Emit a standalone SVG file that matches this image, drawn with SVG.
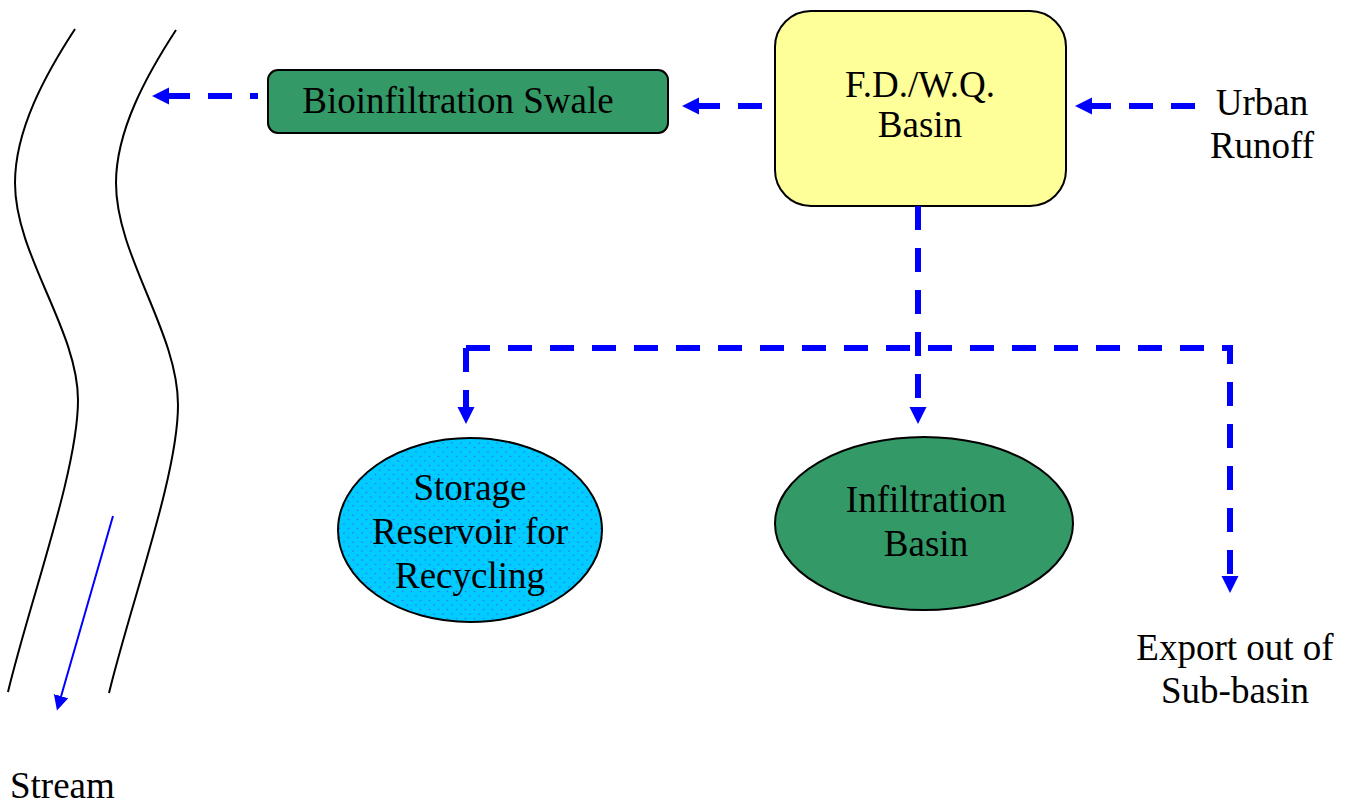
<svg xmlns="http://www.w3.org/2000/svg" width="1356" height="806" viewBox="0 0 1356 806">
<style>
.t{font-family:"Liberation Serif","Times New Roman",serif;font-size:37px;fill:#000;text-anchor:middle}
.flow{fill:none;stroke:#0000FF;stroke-width:6;stroke-dasharray:24 18;marker-end:url(#ah)}
.bank{fill:none;stroke:#000;stroke-width:2}
.node{stroke:#000;stroke-width:2}
</style>
<defs>
<marker id="ah" markerUnits="userSpaceOnUse" markerWidth="18" markerHeight="18" refX="6" refY="9" orient="auto">
<path d="M0,0.5 L17,9 L0,17.5 z" fill="#0000FF"/>
</marker>
<marker id="ah2" markerUnits="userSpaceOnUse" markerWidth="16" markerHeight="16" refX="4" refY="7.5" orient="auto">
<path d="M0,0 L15,7.5 L0,15 z" fill="#0000FF"/>
</marker>
<pattern id="dots" width="9" height="9" patternUnits="userSpaceOnUse">
<rect width="9" height="9" fill="#00CCFF"/>
<circle cx="2" cy="2" r="0.8" fill="#3A6CFF"/>
<circle cx="6.5" cy="6.5" r="0.8" fill="#3A6CFF"/>
</pattern>
</defs>

<g id="stream">
<path class="bank" d="M75,29 C45,75 15,130 15,183 C15,255 78,330 78,400 C78,470 30,600 8,692"/>
<path class="bank" d="M176,30 C146,76 116,131 116,183 C116,256 178,332 178,405 C178,475 131,602 109,693"/>
<line x1="113" y1="516" x2="60" y2="700" stroke="#0000FF" stroke-width="2" marker-end="url(#ah2)"/>
<text class="t" x="10" y="798" style="text-anchor:start">Stream</text>
</g>

<g id="swale">
<rect class="node" x="268" y="70" width="400" height="63" rx="10" fill="#339966"/>
<text class="t" x="458" y="113">Bioinfiltration Swale</text>
</g>

<g id="fdwq">
<rect class="node" x="775" y="11" width="291" height="195" rx="36" fill="#FFFF99"/>
<text class="t" x="920" y="97">F.D./W.Q.</text>
<text class="t" x="920" y="137">Basin</text>
</g>

<g id="urban">
<text class="t" x="1262" y="115">Urban</text>
<text class="t" x="1262" y="158">Runoff</text>
</g>

<g id="storage">
<ellipse class="node" cx="470" cy="530" rx="132" ry="92" fill="url(#dots)"/>
<text class="t" x="470" y="500">Storage</text>
<text class="t" x="470" y="544">Reservoir for</text>
<text class="t" x="470" y="588">Recycling</text>
</g>

<g id="infiltration">
<ellipse class="node" cx="924" cy="523.500" rx="149" ry="86.500" fill="#339966"/>
<text class="t" x="926" y="512">Infiltration</text>
<text class="t" x="926" y="556">Basin</text>
</g>

<g id="export">
<text class="t" x="1235" y="660">Export out of</text>
<text class="t" x="1235" y="703">Sub-basin</text>
</g>

<g id="connectors">
<path class="flow" d="M258,96 H163" stroke-dashoffset="16"/>
<path class="flow" d="M762,106 H693"/>
<path class="flow" d="M1195,106 H1086"/>
<path class="flow" d="M918,206 V413"/>
<path class="flow" d="M466,348 V413"/>
<path class="flow" d="M466,348 H1230 V582"/>
</g>
</svg>
